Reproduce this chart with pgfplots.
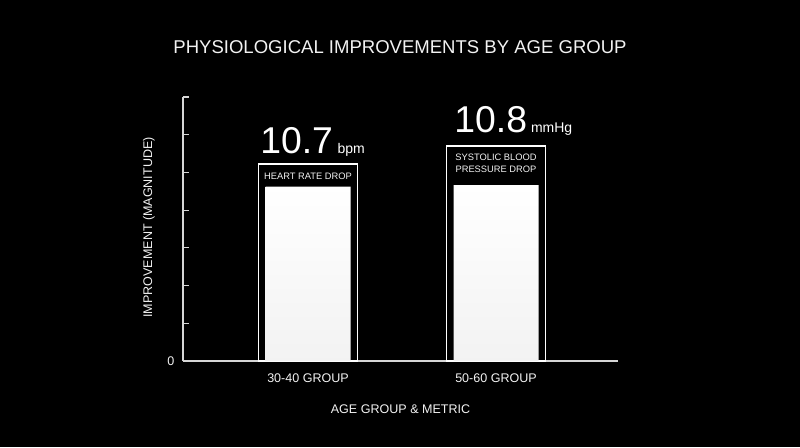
\documentclass[border=0pt]{standalone}
\usepackage{fontspec}
\setmainfont{Liberation Sans}
\usepackage{pgfplots}
\pgfplotsset{compat=1.18}
\definecolor{axisgray}{HTML}{D6D6D6}
\definecolor{txt}{HTML}{F2F2F2}
\begin{document}
\begin{tikzpicture}
% black page, 800x447 px at 0.75pt per px
\fill[black] (0,0) rectangle (600pt,335.25pt);
\useasboundingbox (0,0) rectangle (600pt,335.25pt);
\node[text=txt, font=\fontsize{13.9}{16}\selectfont] at (300pt,299.6pt)
  {PHYSIOLOGICAL IMPROVEMENTS BY AGE GROUP};
\begin{axis}[
    at={(137.25pt,64.5pt)}, anchor=south west,
    scale only axis,
    width=326.25pt, height=198pt,
    xmin=-0.665, xmax=1.649,
    ymin=0, ymax=16.2,
    axis x line=bottom, axis y line=left,
    axis line style={-, draw=axisgray, line width=1.1pt},
    xtick={0,1},
    xticklabels={30-40 GROUP, 50-60 GROUP},
    major x tick style={draw=none},
    ytick={0,2.314,4.629,6.943,9.257,11.571,13.886,16.2},
    yticklabels={0,,,,,,,},
    tick align=inside,
    major tick length=4.5pt,
    y tick style={draw=axisgray, line width=0.8pt},
    ticklabel style={text=txt, font=\fontsize{9.4}{11}\selectfont},
    /pgf/number format/assume math mode=true,
    xticklabel style={anchor=center, yshift=-13pt},
    yticklabel style={anchor=east, xshift=-3pt},
    clip=false,
]
% outline boxes round the bars
\addplot[ybar, bar width=73.9pt, bar shift=0pt, draw=white, line width=1.1pt, fill=black]
  coordinates {(0,12.1) (1,13.2)};
% the bars
\addplot[ybar, bar width=63.75pt, bar shift=0pt, draw=none, top color=white, bottom color=gray!10]
  coordinates {(0,10.7) (1,10.8)};

\node[text=txt, font=\fontsize{7}{8.4}\selectfont] at (axis cs:0,11.35) {HEART RATE DROP};
\node[text=txt, font=\fontsize{7}{9}\selectfont, align=center] at (axis cs:1,12.12)
  {SYSTOLIC BLOOD\\PRESSURE DROP};

\node[anchor=base, text=white, inner sep=0pt, xshift=3.4pt] at (axis cs:0,12.76)
  {\fontsize{28}{30}\selectfont 10.7\hspace{3.5pt}\fontsize{10.5}{12}\selectfont bpm};
\node[anchor=base, text=white, inner sep=0pt, xshift=13pt] at (axis cs:1,14.05)
  {\fontsize{28}{30}\selectfont 10.8\hspace{3pt}\fontsize{10.5}{12}\selectfont mmHg};

% axis titles
\node[text=txt, font=\fontsize{9.4}{11}\selectfont, yshift=-36pt] at (rel axis cs:0.5,0)
  {AGE GROUP \& METRIC};
\node[text=txt, font=\fontsize{9.4}{11}\selectfont, rotate=90, yshift=25.5pt] at (rel axis cs:0,0.506)
  {IMPROVEMENT (MAGNITUDE)};
\end{axis}
\end{tikzpicture}
\end{document}
